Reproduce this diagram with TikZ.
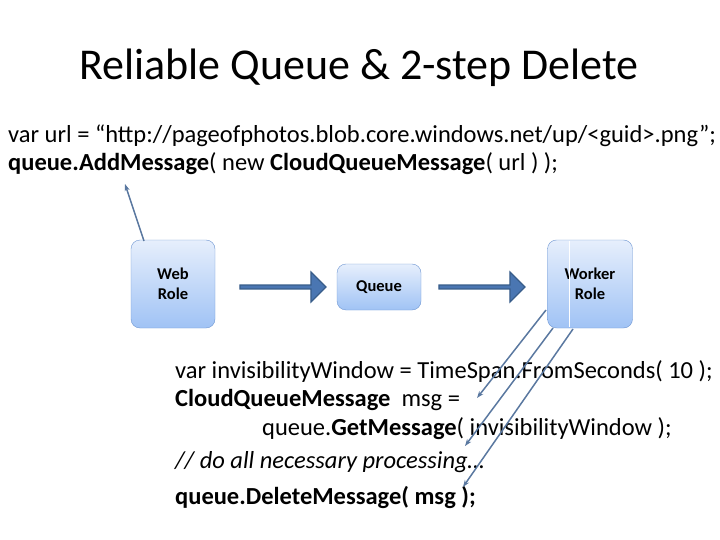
\documentclass[tikz,border=0pt]{standalone}
\usepackage{fontspec}
\setmainfont{Carlito}
\usetikzlibrary{arrows.meta,shapes.arrows}
\definecolor{bfill}{RGB}{214,228,250}
\definecolor{bfill2}{RGB}{160,195,245}
\definecolor{bline}{RGB}{110,150,210}
\definecolor{arr}{RGB}{74,118,178}
\definecolor{arrd}{RGB}{56,93,138}
\definecolor{ptr}{RGB}{90,120,160}
\begin{document}
\begin{tikzpicture}[x=1pt,y=-1pt,
  role/.style={draw=bline,rounded corners=9pt,top color=bfill!60!white,bottom color=bfill2,font=\fontsize{16.5}{20}\selectfont\bfseries,align=center,inner sep=0pt},
  big/.style={single arrow,draw=arrd,fill=arr,line width=1.2pt,minimum height=86pt,minimum width=30pt,single arrow head extend=4pt,inner sep=0pt,single arrow tip angle=90},
  ptrl/.style={draw=ptr,line width=1.5pt,-{Stealth[length=7pt,width=5pt]}},
  code/.style={anchor=west,font=\fontsize{24.5}{28}\selectfont,inner sep=0pt}]
\useasboundingbox (0,0) rectangle (720,540);
\node[anchor=center,font=\fontsize{44}{50}\selectfont] (title) at (359,68) {Reliable Queue \& 2-step Delete};
\node[code] (c1) at (8,136) {var url = “http://pageofphotos.blob.core.windows.net/up/<guid>.png”;};
\node[code] (c2) at (8,164) {\textbf{queue.AddMessage}( new \textbf{CloudQueueMessage}( url ) );};
\node[role,minimum width=84pt,minimum height=88pt] (web) at (173,284) {Web\\Role};
\node[role,minimum width=84pt,minimum height=46pt] (queue) at (379,287) {Queue};
\node[role,minimum width=85pt,minimum height=88pt] (worker) at (590,284) {Worker\\Role};
\draw[white,line width=1pt] (569,241) -- (569,327);
\node[big] (a1) at (282,287) {};
\node[big] (a2) at (481,287) {};
\coordinate (wt) at (144,241);
\coordinate (ct) at (125,184);
\draw[ptrl] (wt) -- (ct);
\node[code] (l1) at (175,372) {var invisibilityWindow = TimeSpan.FromSeconds( 10 );};
\node[code] (l2) at (175,400) {\textbf{CloudQueueMessage}\ \ msg =};
\node[code] (l3) at (262,429) {queue.\textbf{GetMessage}( invisibilityWindow );};
\node[code] (l4) at (175,462) {\itshape // do all necessary processing…};
\node[code] (l5) at (175,497) {\bfseries queue.DeleteMessage( msg );};
\coordinate (s1) at (546,310); \coordinate (e1) at (477,398);
\coordinate (s2) at (553,328); \coordinate (e2) at (465,446);
\coordinate (s3) at (573,329); \coordinate (e3) at (463,487);
\draw[ptrl] (s1) -- (e1);
\draw[ptrl] (s2) -- (e2);
\draw[ptrl] (s3) -- (e3);
\end{tikzpicture}
\end{document}
